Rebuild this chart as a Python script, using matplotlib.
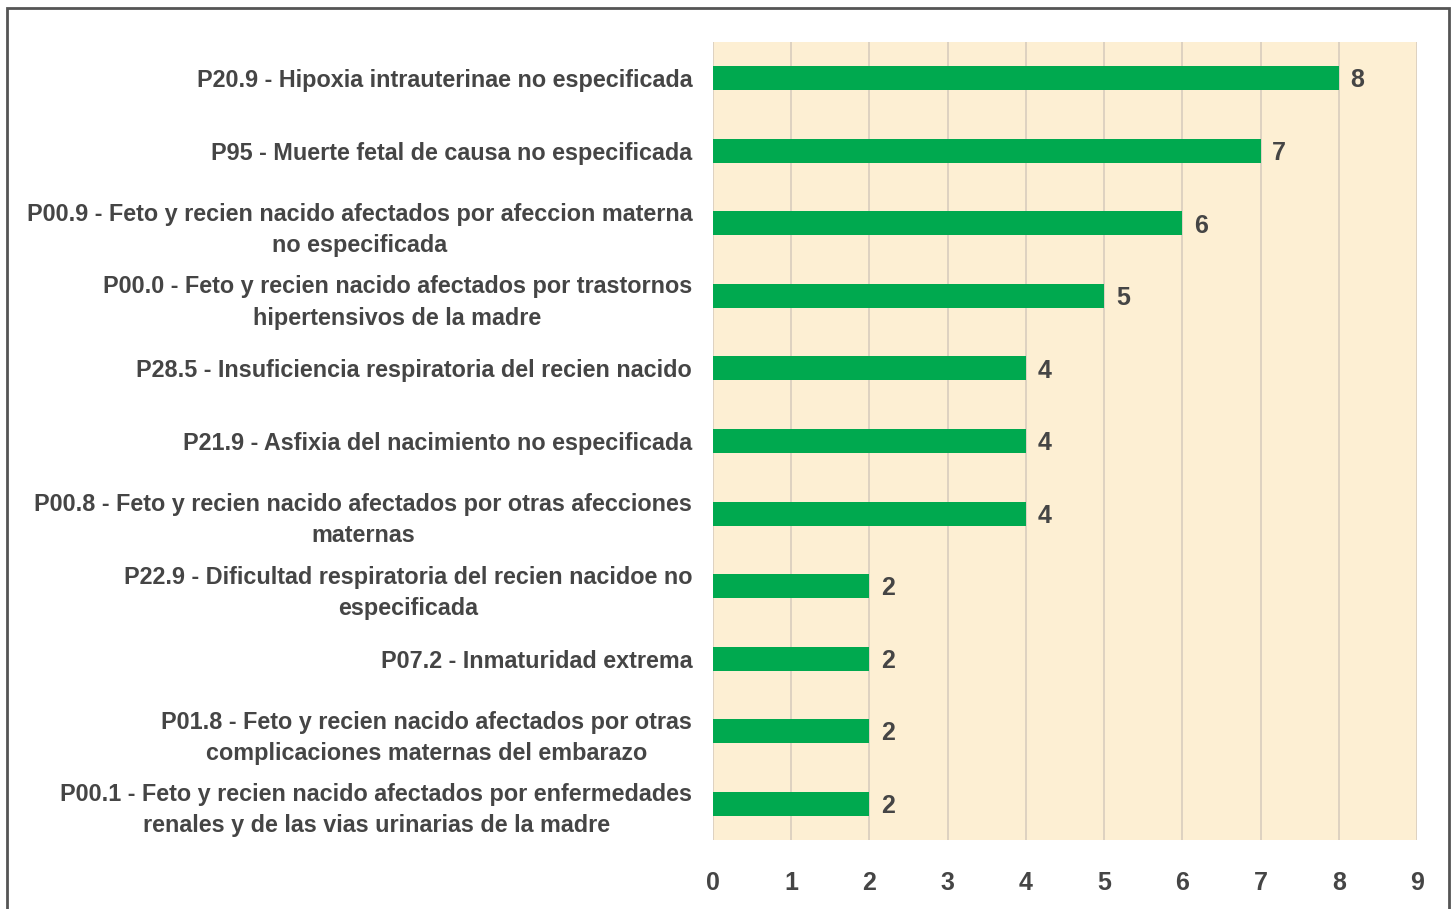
import matplotlib.pyplot as plt
from matplotlib.patches import Rectangle
from matplotlib import font_manager

# Datos del gráfico
categorias = [
    "P20.9 - Hipoxia intrauterinae no especificada",
    "P95 - Muerte fetal de causa no especificada",
    "P00.9 - Feto y recien nacido afectados por afeccion materna\nno especificada",
    "P00.0 - Feto y recien nacido afectados por trastornos\nhipertensivos de la madre",
    "P28.5 - Insuficiencia respiratoria del recien nacido",
    "P21.9 - Asfixia del nacimiento no especificada",
    "P00.8 - Feto y recien nacido afectados por otras afecciones\nmaternas",
    "P22.9 - Dificultad respiratoria del recien nacidoe no\nespecificada",
    "P07.2 - Inmaturidad extrema",
    "P01.8 - Feto y recien nacido afectados por otras\ncomplicaciones maternas del embarazo",
    "P00.1 - Feto y recien nacido afectados por enfermedades\nrenales y de las vias urinarias de la madre",
]
valores = [8, 7, 6, 5, 4, 4, 4, 2, 2, 2, 2]
ticks_x = [0, 1, 2, 3, 4, 5, 6, 7, 8, 9]

# Fuente estrecha si existe
nombres = {f.name for f in font_manager.fontManager.ttflist}
familia = ["Liberation Sans Narrow"] if "Liberation Sans Narrow" in nombres else ["Liberation Sans"]
plt.rcParams["font.family"] = familia + ["DejaVu Sans"]

color_texto = "#454545"
fig = plt.figure(figsize=(14.56, 9.09), dpi=100)
ax = fig.add_axes([0.4897, 0.0759, 0.4835, 0.8779])

# Borde exterior
fig.patches.append(Rectangle((0.005, -0.01), 0.99, 1.0 - 0.0088 + 0.01, transform=fig.transFigure,
                             fill=False, edgecolor="#555555", linewidth=2))

pos = list(range(len(categorias)))
ax.barh(pos, valores, height=0.33, color="#00A94F", zorder=3)

for y, v in zip(pos, valores):
    ax.text(v + 0.15, y + 0.03, str(v), va="center", ha="left", fontsize=18,
            fontweight="bold", color=color_texto)

ax.set_facecolor("#FDEFD3")
ax.set_xlim(0, 9)
ax.set_ylim(len(categorias) - 0.5, -0.5)
ax.set_xticks(ticks_x)
ax.set_yticks(pos)
ax.set_yticklabels(categorias)
ax.grid(axis="x", color="#D8CDBE", linewidth=1.2, zorder=0)
ax.set_axisbelow(True)
for s in ax.spines.values():
    s.set_visible(False)

ax.tick_params(axis="y", length=0, pad=15, labelsize=16.8, labelcolor=color_texto)
ax.tick_params(axis="x", length=0, pad=22, labelsize=18, labelcolor=color_texto)
for lbl in ax.get_yticklabels():
    lbl.set_multialignment("center")
    lbl.set_fontweight("bold")
    lbl.set_linespacing(1.45)
for lbl in ax.get_xticklabels():
    lbl.set_fontweight("bold")

fig.savefig("out.png", dpi=100)
